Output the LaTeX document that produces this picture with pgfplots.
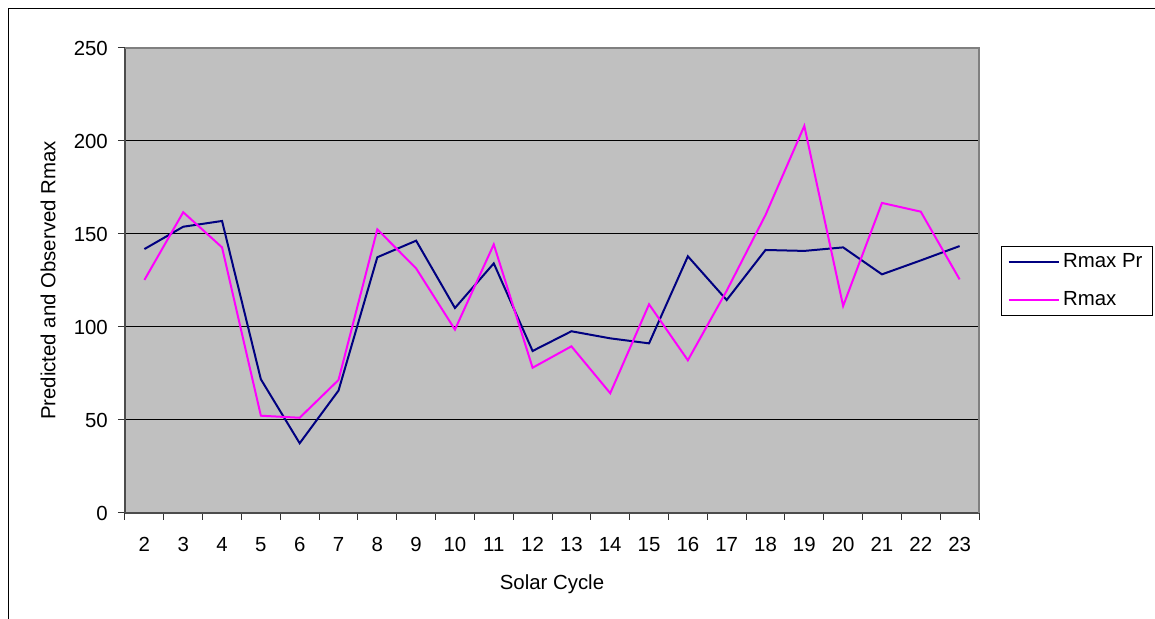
\documentclass[border=0pt]{standalone}
\usepackage{fontspec}
\setmainfont{Liberation Sans}
\usepackage{pgfplots}
\pgfplotsset{compat=1.18}
\definecolor{plotbg}{HTML}{C0C0C0}
\definecolor{navyline}{HTML}{000080}
\definecolor{magline}{HTML}{FF00FF}
\begin{document}
\fontsize{10.2pt}{12pt}\selectfont
\begin{tikzpicture}
\path[use as bounding box] (0,0) rectangle (577.5pt,309.5pt);
\draw[black, line width=0.5pt] (4.25pt,0) -- (4.25pt,305.25pt) -- (577.5pt,305.25pt);
\begin{axis}[
  at={(62.5pt,53pt)}, anchor=south west,
  scale only axis, width=427pt, height=232.5pt,
  xmin=1.5, xmax=23.5, ymin=0, ymax=250,
  axis lines=left, axis line style={-, draw=black!70, line width=1pt},
  axis background/.style={fill=plotbg},
  xtick={2,...,23},
  minor xtick={1.5,2.5,...,23.5},
  major x tick style={draw=none},
  ytick={0,50,...,250},
  tick align=outside,
  major tick length=3.5pt, minor tick length=3.5pt,
  every tick/.style={black!80, line width=0.5pt},
  ymajorgrids, major grid style={black, line width=0.5pt},
  /pgf/number format/assume math mode=true,
  ticklabel style={font=\fontsize{10.2pt}{12pt}\selectfont},
  xticklabel style={anchor=center, yshift=-12.3pt},
  yticklabel style={anchor=east, xshift=-1.5pt},
  xlabel={Solar Cycle},
  ylabel={Predicted and Observed Rmax},
  xlabel style={at={(axis description cs:0.5,-0.153)}, anchor=center},
  ylabel style={at={(axis description cs:-0.0902,0.5)}, anchor=center},
  legend style={at={(axis description cs:1.0258,0.499)}, anchor=west, draw=black, line width=0.5pt, fill=white, inner xsep=3pt, inner ysep=1.5pt, row sep=6.8pt, font=\fontsize{10.2pt}{12pt}\selectfont, nodes={inner xsep=1.8pt}},
  legend cell align=left,
  legend image code/.code={\draw[#1] (0pt,0pt) -- (25pt,0pt);},
  after end axis/.code={\draw[black!50, line width=1pt] (rel axis cs:0,1) -- (rel axis cs:1,1) -- (rel axis cs:1,0);},
]
\addplot[navyline, line width=1pt] coordinates {
(2,141.9) (3,153.9) (4,157.0) (5,71.9) (6,37.5) (7,65.8) (8,137.5) (9,146.4)
(10,110.2) (11,134.2) (12,87.1) (13,97.7) (14,93.9) (15,91.2) (16,138.0)
(17,114.5) (18,141.4) (19,140.9) (20,142.8) (21,128.3) (22,135.8) (23,143.5)
};
\addlegendentry{Rmax Pr}
\addplot[magline, line width=1pt] coordinates {
(2,125.3) (3,161.7) (4,142.8) (5,52.3) (6,51.2) (7,71.5) (8,152.5) (9,131.5)
(10,98.6) (11,144.4) (12,78.1) (13,89.6) (14,64.4) (15,112.2) (16,82.1)
(17,119.5) (18,160.2) (19,208.1) (20,111.3) (21,166.7) (22,162.0) (23,125.6)
};
\addlegendentry{Rmax}
\end{axis}
\end{tikzpicture}
\end{document}
